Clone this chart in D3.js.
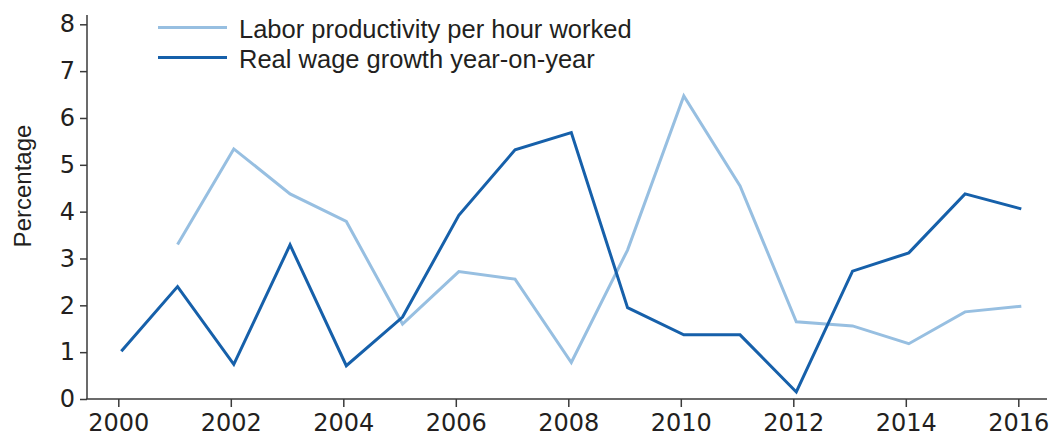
<!DOCTYPE html>
<html><head><meta charset="utf-8">
<script src="https://cdn.jsdelivr.net/npm/d3@7"></script>
<style>
html,body{margin:0;padding:0;background:#fff;}
svg{display:block;}
</style></head>
<body>
<svg id="chart" width="1052" height="441"></svg>
<script>
const years = [2000,2001,2002,2003,2004,2005,2006,2007,2008,2009,2010,2011,2012,2013,2014,2015,2016];
const productivity = [null,3.30,5.34,4.38,3.79,1.60,2.72,2.56,0.78,3.18,6.47,4.55,1.65,1.56,1.18,1.86,1.98];
const realWage = [1.02,2.40,0.74,3.29,0.71,1.75,3.92,5.32,5.69,1.95,1.37,1.37,0.15,2.73,3.12,4.38,4.06];
const xTicks = [2000,2002,2004,2006,2008,2010,2012,2014,2016];
const yTicks = [0,1,2,3,4,5,6,7,8];
const seriesNames = ["Labor productivity per hour worked","Real wage growth year-on-year"];
const seriesColors = ["#97bfe1","#1660aa"];

const svg = d3.select("#chart");
const x = d3.scaleLinear().domain([2000,2016]).range([118.3,1018.3]);
const y = d3.scaleLinear().domain([0,8]).range([399,24.3]);
const axisColor = "#3a3a3a";
const textColor = "#231f20";
const numFont = "DejaVu Sans, sans-serif";
const txtFont = "Liberation Sans, Arial, sans-serif";

// axes lines
svg.append("line").attr("x1",87).attr("x2",87).attr("y1",15).attr("y2",y(0))
  .attr("stroke",axisColor).attr("stroke-width",1.5);
svg.append("line").attr("x1",86.25).attr("x2",1047).attr("y1",y(0)).attr("y2",y(0))
  .attr("stroke",axisColor).attr("stroke-width",1.5);

// x axis
const xAxis = d3.axisBottom(x).tickValues(xTicks).tickFormat(d3.format("d")).tickSizeOuter(0).tickSizeInner(8).tickPadding(7);
const gx = svg.append("g").attr("transform",`translate(0,${y(0)})`).call(xAxis);
gx.select(".domain").remove();
gx.selectAll(".tick line").attr("stroke",axisColor).attr("stroke-width",1.5);
gx.selectAll(".tick text").attr("fill",textColor).style("font-family",numFont).style("font-size","24px");

// y axis
const yAxis = d3.axisLeft(y).tickValues(yTicks).tickFormat(d3.format("d")).tickSizeOuter(0).tickSizeInner(7).tickPadding(5);
const gy = svg.append("g").attr("transform","translate(87,0)").call(yAxis);
gy.select(".domain").remove();
gy.selectAll(".tick line").attr("stroke",axisColor).attr("stroke-width",1.5);
gy.selectAll(".tick text").attr("fill",textColor).style("font-family",numFont).style("font-size","24px");

// y title
svg.append("text").attr("transform","translate(31,186) rotate(-90)")
  .attr("text-anchor","middle").attr("fill",textColor)
  .style("font-family",txtFont).style("font-size","24px").text("Percentage");

// lines
const lineGen = d3.line().defined(d => d.v != null).x(d => x(d.year)).y(d => y(d.v));
const allSeries = [productivity, realWage];
const gl = svg.append("g").attr("transform","translate(3,0)");
allSeries.forEach((vals,i) => {
  const data = years.map((yr,j) => ({year: yr, v: vals[j]}));
  gl.append("path").datum(data).attr("d",lineGen)
    .attr("fill","none").attr("stroke",seriesColors[i]).attr("stroke-width",3)
    .attr("stroke-linejoin","miter");
});

// legend
const legY = [27.5, 57.5];
seriesNames.forEach((name,i) => {
  svg.append("line").attr("x1",158).attr("x2",227).attr("y1",legY[i]).attr("y2",legY[i])
    .attr("stroke",seriesColors[i]).attr("stroke-width",3);
  svg.append("text").attr("x",239).attr("y",legY[i]+10).attr("fill",textColor)
    .style("font-family",txtFont).style("font-size","25.5px").text(name);
});
</script>
</body></html>
